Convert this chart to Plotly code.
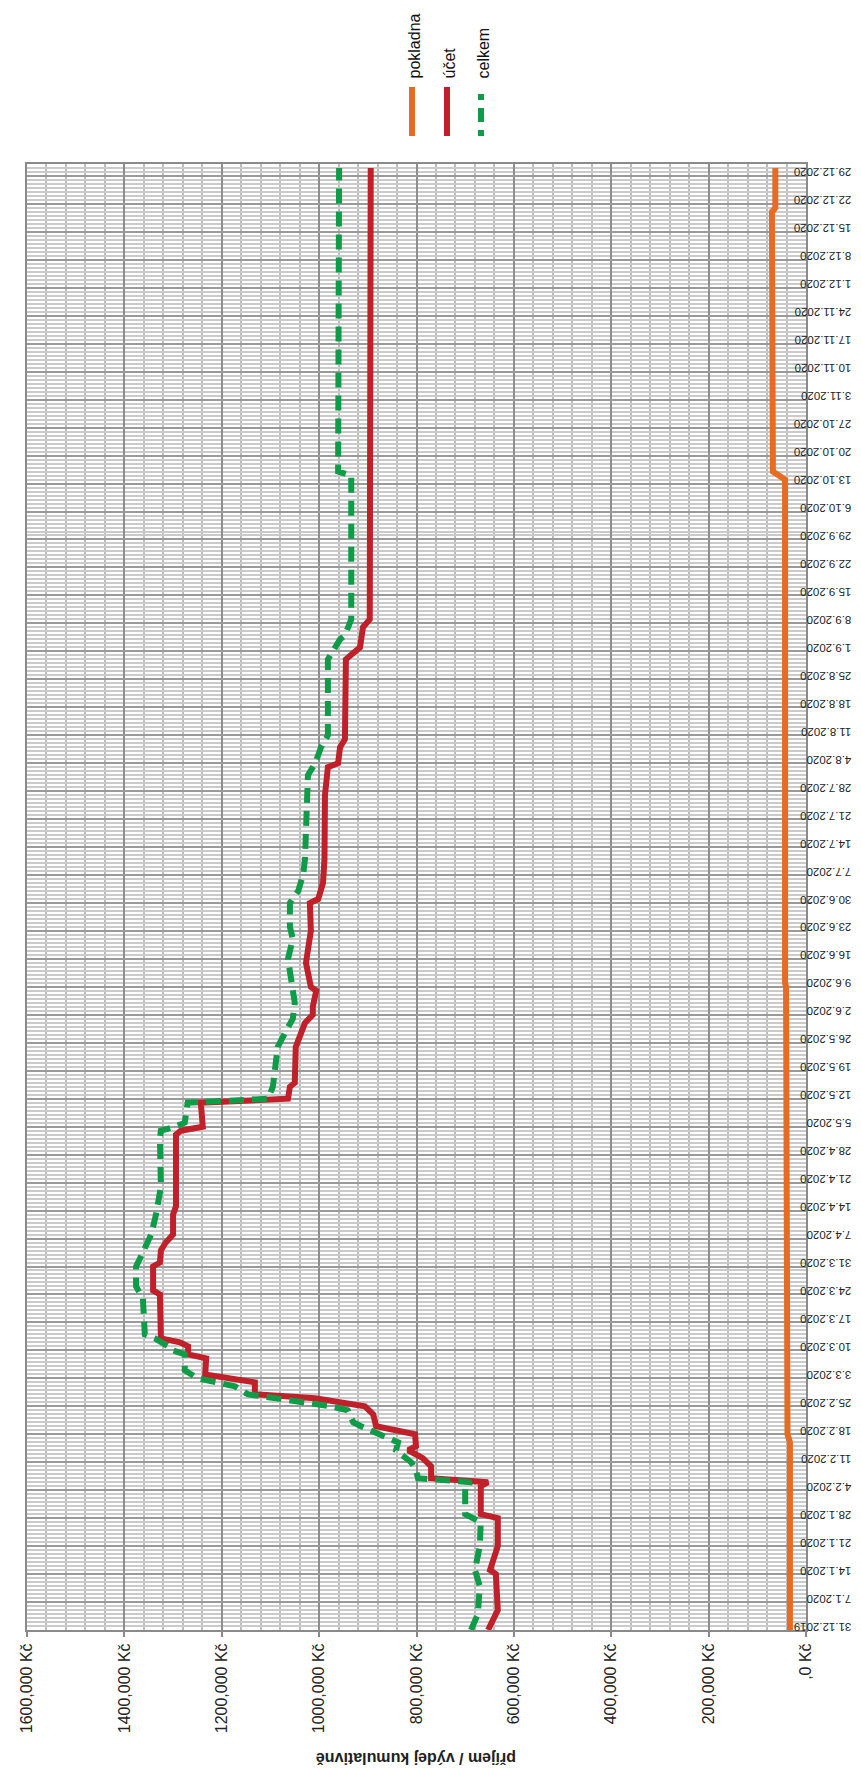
import plotly.graph_objects as go

# ---- data ----
pokladna_dates = ["2019-12-31", "2020-02-16", "2020-02-18", "2020-05-19", "2020-05-20", "2020-06-09",
                  "2020-06-10", "2020-10-14", "2020-10-16", "2020-12-02", "2020-12-03", "2020-12-20",
                  "2020-12-21", "2020-12-31"]
pokladna_values = [33000, 33000, 38000, 38000, 41000, 41000, 43000, 43000, 68000, 68000, 70000, 70000,
                   63000, 63000]

ucet_dates = ["2019-12-31", "2020-01-03", "2020-01-05", "2020-01-14", "2020-01-15", "2020-01-21",
              "2020-01-28", "2020-01-29", "2020-02-05", "2020-02-06", "2020-02-07", "2020-02-10",
              "2020-02-12", "2020-02-14", "2020-02-15", "2020-02-18", "2020-02-20", "2020-02-23",
              "2020-02-25", "2020-02-27", "2020-02-28", "2020-03-02", "2020-03-04", "2020-03-08",
              "2020-03-09", "2020-03-11", "2020-03-12", "2020-03-13", "2020-03-24", "2020-03-25",
              "2020-03-31", "2020-04-01", "2020-04-04", "2020-04-06", "2020-04-08", "2020-04-13",
              "2020-04-15", "2020-05-03", "2020-05-04", "2020-05-05", "2020-05-11", "2020-05-12",
              "2020-05-15", "2020-05-16", "2020-05-25", "2020-05-31", "2020-06-02", "2020-06-04",
              "2020-06-08", "2020-06-09", "2020-06-15", "2020-06-23", "2020-06-30", "2020-07-01",
              "2020-07-05", "2020-07-11", "2020-07-27", "2020-08-03", "2020-08-04", "2020-08-08",
              "2020-08-10", "2020-08-30", "2020-09-02", "2020-09-07", "2020-09-09", "2020-12-31"]
ucet_values = [653000, 639000, 633000, 637000, 649000, 633000,
               633000, 668000, 668000, 653000, 770000, 770000,
               787000, 817000, 801000, 803000, 883000, 889000,
               906000, 1008000, 1132000, 1132000, 1234000, 1232000,
               1269000, 1269000, 1286000, 1325000, 1327000, 1341000,
               1341000, 1327000, 1325000, 1315000, 1300000, 1300000,
               1294000, 1294000, 1284000, 1239000, 1243000, 1064000,
               1060000, 1050000, 1048000, 1029000, 1013000, 1013000,
               1006000, 1017000, 1027000, 1017000, 1019000, 1002000,
               992000, 989000, 988000, 982000, 961000, 957000,
               947000, 945000, 916000, 910000, 896000, 894000]

celkem_dates = ["2019-12-31", "2020-01-04", "2020-01-11", "2020-01-15", "2020-01-21", "2020-01-27",
                "2020-01-29", "2020-02-05", "2020-02-06", "2020-02-07", "2020-02-09", "2020-02-11",
                "2020-02-14", "2020-02-16", "2020-02-20", "2020-02-21", "2020-02-24", "2020-02-25",
                "2020-02-28", "2020-03-01", "2020-03-03", "2020-03-05", "2020-03-09", "2020-03-10",
                "2020-03-11", "2020-03-13", "2020-03-14", "2020-03-23", "2020-03-26", "2020-03-31",
                "2020-04-02", "2020-04-05", "2020-04-08", "2020-04-13", "2020-04-20", "2020-05-02",
                "2020-05-04", "2020-05-05", "2020-05-06", "2020-05-11", "2020-05-12", "2020-05-15",
                "2020-05-25", "2020-05-29", "2020-06-01", "2020-06-05", "2020-06-09", "2020-06-14",
                "2020-06-16", "2020-06-19", "2020-06-21", "2020-06-24", "2020-06-30", "2020-07-03",
                "2020-07-07", "2020-07-11", "2020-08-01", "2020-08-04", "2020-08-08", "2020-08-11",
                "2020-08-30", "2020-09-04", "2020-09-05", "2020-09-09", "2020-10-15", "2020-10-16",
                "2020-12-31"]
celkem_values = [688000, 674000, 670000, 680000, 670000, 668000,
                 700000, 700000, 688000, 797000, 801000, 811000,
                 842000, 838000, 914000, 930000, 941000, 976000,
                 1146000, 1173000, 1249000, 1276000, 1276000, 1300000,
                 1310000, 1337000, 1358000, 1362000, 1376000, 1376000,
                 1368000, 1358000, 1345000, 1335000, 1325000, 1327000,
                 1325000, 1296000, 1276000, 1270000, 1105000, 1095000,
                 1085000, 1068000, 1054000, 1050000, 1054000, 1060000,
                 1064000, 1058000, 1054000, 1060000, 1060000, 1043000,
                 1033000, 1029000, 1023000, 1008000, 996000, 982000,
                 982000, 957000, 947000, 934000, 934000, 961000,
                 959000]

value_ticks = [0, 200000, 400000, 600000, 800000, 1000000, 1200000, 1400000, 1600000]
value_tick_labels = [",0 Kč", "200,000 Kč", "400,000 Kč", "600,000 Kč", "800,000 Kč",
                     "1000,000 Kč", "1200,000 Kč", "1400,000 Kč", "1600,000 Kč"]
series_names = ["pokladna", "účet", "celkem"]

# ---- styles ----
C_ORANGE = "#E66C24"
C_RED = "#C0202A"
C_GREEN = "#0E9C48"
DASH = "15px,8px"
FONT = "Liberation Sans, Arial, sans-serif"

fig = go.Figure()
fig.add_trace(go.Scatter(x=pokladna_values, y=pokladna_dates, mode="lines", name=series_names[0],
                         line=dict(color=C_ORANGE, width=6)))
fig.add_trace(go.Scatter(x=ucet_values, y=ucet_dates, mode="lines", name=series_names[1],
                         line=dict(color=C_RED, width=6)))
fig.add_trace(go.Scatter(x=celkem_values, y=celkem_dates, mode="lines", name=series_names[2],
                         line=dict(color=C_GREEN, width=6, dash=DASH)))

W, H = 861, 1769
L, R, T, B = 19, 63, 156, 147

fig.update_layout(
    width=W, height=H,
    margin=dict(l=L, r=R, t=T, b=B, pad=0, autoexpand=False),
    paper_bgcolor="white", plot_bgcolor="white",
    showlegend=False,
    font=dict(family=FONT, color="#222222"),
)

fig.update_xaxes(
    automargin=False,
    range=[1600000, 0],
    tickmode="array", tickvals=value_ticks, ticktext=value_tick_labels,
    tickangle=-90, tickfont=dict(size=16, color="#222222"),
    ticks="outside", ticklen=5, tickcolor="#8A8A8A", tickwidth=2,
    showgrid=True, gridcolor="#8E8E8E", gridwidth=2,
    minor=dict(dtick=40000, tick0=0, showgrid=True, gridcolor="#BDBDBD", gridwidth=2),
    showline=True, linecolor="#8A8A8A", linewidth=2, mirror=True,
    zeroline=False,
)

fig.update_yaxes(
    automargin=False,
    type="date",
    range=["2019-12-31", "2021-01-01"],
    side="right",
    tick0="2019-12-31", dtick=7 * 86400000,
    tickformat="%-d.%-m.%Y",
    tickangle=180, tickfont=dict(size=11.5, color="#222222"),
    ticklabelstandoff=37,
    ticks="outside", ticklen=4, tickcolor="#8A8A8A", tickwidth=1,
    showgrid=True, gridcolor="#9A9A9A", gridwidth=1.5,
    minor=dict(dtick=86400000, tick0="2019-12-31", showgrid=True, gridcolor="#CACACA", gridwidth=1.5),
    showline=True, linecolor="#8A8A8A", linewidth=2, mirror=True,
    zeroline=False,
)

# axis title (upside down, below)
pw = W - L - R
ph = H - T - B
def px_x(px):
    return (px - L) / pw
def px_y(py):
    return (H - B - py) / ph

fig.add_annotation(text="<b>příjem / výdej kumulativně</b>", xref="paper", yref="paper",
                   x=px_x(408), y=px_y(1750), textangle=180, showarrow=False,
                   font=dict(size=16, color="#222222"), xanchor="center", yanchor="middle")

# legend (rotated, drawn manually)
leg_x = [404, 439, 473]
leg_colors = [C_ORANGE, C_RED, C_GREEN]
leg_dash = ["solid", "solid", "6px,8px,14px,8px"]
for name, lx, col, dsh in zip(series_names, leg_x, leg_colors, leg_dash):
    fig.add_shape(type="line", xref="paper", yref="paper",
                  x0=px_x(lx), x1=px_x(lx), y0=px_y(128), y1=px_y(79),
                  line=dict(color=col, width=6, dash=dsh))
    fig.add_annotation(text=name, xref="paper", yref="paper", x=px_x(lx + 2), y=px_y(73),
                       textangle=-90, showarrow=False, xanchor="center", yanchor="bottom",
                       font=dict(size=16, color="#111111"))

fig.write_html("out.html")
